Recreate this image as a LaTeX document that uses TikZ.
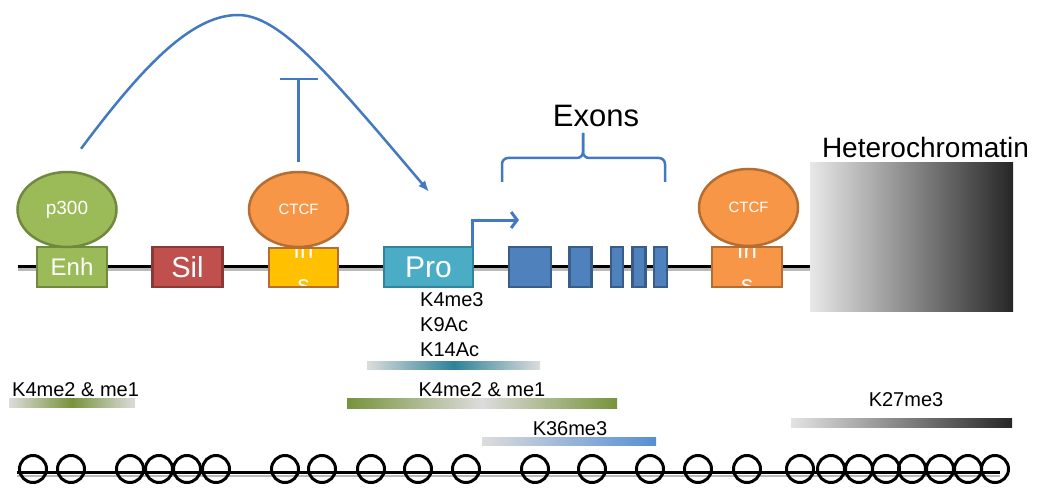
\documentclass[tikz,border=0pt]{standalone}
\usepackage{fontspec}
\setmainfont{Liberation Sans}
\usepackage{xcolor}
\usetikzlibrary{arrows.meta, shapes.geometric, positioning, calc}

\definecolor{enhgreen}{HTML}{9BBB59}
\definecolor{enhedge}{HTML}{71893F}
\definecolor{silred}{HTML}{C0504D}
\definecolor{siledge}{HTML}{8C3836}
\definecolor{insyellow}{HTML}{FFC000}
\definecolor{ctcforange}{HTML}{F79646}
\definecolor{ctcfedge}{HTML}{B66D31}
\definecolor{proteal}{HTML}{4BACC6}
\definecolor{proedge}{HTML}{31849B}
\definecolor{exonblue}{HTML}{4F81BD}
\definecolor{exonedge}{HTML}{385D8A}
\definecolor{linkblue}{HTML}{4279C0}
\definecolor{bargray}{HTML}{DCDCDC}
\definecolor{bargreen}{HTML}{77933C}
\definecolor{barteal}{HTML}{2E8299}
\definecolor{barblue}{HTML}{558ED5}

\begin{document}
\begin{tikzpicture}[x=1pt, y=-1pt, node distance=16pt,
  dnabox/.style={rectangle, draw, line width=2.5pt, minimum height=40pt, inner sep=0pt, text=white},
  insbox/.style={dnabox, path picture={\node[instext] at (path picture bounding box.center) {In\\s};}},
  protein/.style={ellipse, draw, line width=2.5pt, minimum width=99pt, minimum height=75pt, inner sep=0pt, text=white},
  exon/.style={dnabox, fill=exonblue, draw=exonedge},
  instext/.style={text=white, align=center, inner sep=0pt, font=\fontsize{24}{34}\selectfont},
  histlabel/.style={inner sep=0pt, font=\fontsize{20}{25}\selectfont},
  bluelink/.style={draw=linkblue, line width=2.5pt},
  nuc/.style={circle, draw, line width=3pt, minimum size=27pt, inner sep=0pt}]

\useasboundingbox (0,0) rectangle (1050,500);

\draw[line width=2.5pt, gray!55] (18,269.5) -- (810,269.5);
\draw[line width=3pt] (18,266) -- (810,266);

\node[dnabox, fill=enhgreen, draw=enhedge, minimum width=70pt, font=\fontsize{24}{24}\selectfont] (enh) at (72,267) {Enh};
\node[protein, fill=enhgreen, draw=enhedge, font=\fontsize{19}{19}\selectfont] (p300) at (67,209.5) {p300};
\node[dnabox, fill=silred, draw=siledge, minimum width=70pt, font=\fontsize{29}{29}\selectfont] (sil) at (187.5,267) {Sil};
\node[insbox, fill=insyellow, draw=ctcfedge, minimum width=69pt, minimum height=39pt] (ins1) at (303.5,267.5) {};
\node[protein, fill=ctcforange, draw=ctcfedge, font=\fontsize{15}{15}\selectfont] (ctcf1) at (298.5,209.5) {CTCF};
\node[dnabox, fill=proteal, draw=proedge, minimum width=89pt, font=\fontsize{30}{30}\selectfont] (pro) at (428.5,267) {Pro};

\node[exon, minimum width=42pt] (ex1) at (530,267) {};
\node[exon, minimum width=22pt, right=of ex1] (ex2) {};
\node[exon, minimum width=12pt, right=17pt of ex2] (ex3) {};
\node[exon, minimum width=13pt, right=7pt of ex3] (ex4) {};
\node[exon, minimum width=13pt, right=6pt of ex4] (ex5) {};

\node[insbox, fill=ctcforange, draw=ctcfedge, minimum width=70pt] (ins2) at (747,267) {};
\node[protein, fill=ctcforange, draw=ctcfedge, font=\fontsize{15}{15}\selectfont, minimum height=77pt] (ctcf2) at (748.5,207.5) {CTCF};

\node[minimum width=203pt, minimum height=148pt, inner sep=0pt, left color=black!9, right color=black!85] (hetero) at (911.5,237) {};
\node[font=\fontsize{28}{28}\selectfont, inner sep=0pt, above=5pt of hetero.north, xshift=14pt] (heterolabel) {Heterochromatin};

\draw[bluelink, -{Latex[length=11pt, width=9pt]}] ($(p300.north)+(14,-22)$) .. controls (140,70) and (190,15) .. (238,15) .. controls (280,15) and (330,75) .. ($(pro.north)+(0.5,-54)$);

\coordinate (block) at (298.5,78);
\draw[bluelink, -{Bar[width=38pt]}, shorten <=9pt] (ctcf1.north) -- (block);

\coordinate (tss) at (519,220);
\draw[bluelink, line width=3pt, -{Straight Barb[length=6pt, width=16pt]}] ([xshift=-2pt]pro.north east) |- (tss);

\draw[bluelink, rounded corners=6pt] (502,182) -- (502,158) -- (583,158) -- (583,133);
\draw[bluelink, rounded corners=6pt] (665,182) -- (665,158) -- (583,158) -- (583,133);
\node[font=\fontsize{31}{31}\selectfont] (exons) at (596,116) {Exons};

\node[histlabel, align=left, anchor=west] (promarks) at (420,324.5) {K4me3\\K9Ac\\K14Ac};
\shade[left color=bargray, right color=bargray, middle color=barteal] (367,361) rectangle (540,369);

\node[histlabel, anchor=west] (enhmarks) at (12,390) {K4me2 \& me1};
\shade[left color=bargray, right color=bargray, middle color=bargreen] (9,398) rectangle (135,407);

\node[histlabel] (genemarks) at (482,390) {K4me2 \& me1};
\shade[left color=bargreen, right color=bargreen, middle color=bargray] (347,398) rectangle (617,408);

\node[histlabel] (k36) at (570,429) {K36me3};
\shade[left color=bargray, right color=barblue] (482,437) rectangle (656,445);

\node[histlabel] (k27) at (906,400) {K27me3};
\shade[left color=bargray!80, right color=black!85] (791,418) rectangle (1012,427);

\draw[line width=2.5pt, gray!55] (17,476) -- (1000,476);
\draw[line width=3pt] (17,472.5) -- (1000,472.5);
\foreach \x [count=\i] in {33,71,130,159,187,216,285,322,371,418,466,535,592,650,698,747,800,831,859,886,912,940,968,995}
  \node[nuc] (nuc\i) at (\x,469) {};

\end{tikzpicture}
\end{document}
